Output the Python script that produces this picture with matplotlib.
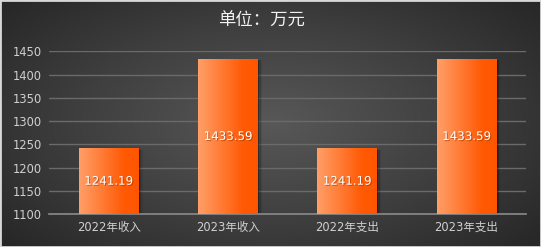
import matplotlib.pyplot as plt
import numpy as np
from matplotlib.colors import LinearSegmentedColormap
from matplotlib.patches import Rectangle
import matplotlib.patheffects as pe

plt.rcParams['font.family'] = ['DejaVu Sans', 'Noto Sans CJK SC']

categories = ['2022年收入', '2023年收入', '2022年支出', '2023年支出']
values = [1241.19, 1433.59, 1241.19, 1433.59]
yticks = [1100, 1150, 1200, 1250, 1300, 1350, 1400, 1450]

fig = plt.figure(figsize=(5.41, 2.47), dpi=100)

# radial gradient background
bg = fig.add_axes([0, 0, 1, 1], zorder=-10)
yy, xx = np.mgrid[-1:1:247j, -1:1:541j]
r = np.sqrt(xx**2 + (yy * 0.9)**2)
bg_cmap = LinearSegmentedColormap.from_list('bg', ['#585858', '#404040', '#262626'])
bg.imshow(r, cmap=bg_cmap, aspect='auto', extent=[0, 1, 0, 1], vmin=0, vmax=1.35)
bg.add_patch(Rectangle((0, 0), 1, 1, transform=bg.transAxes, fill=False,
                       edgecolor='#d8d8d8', linewidth=2))
bg.set_axis_off()

ax = fig.add_axes([49 / 541, (247 - 214) / 247, (526 - 49) / 541, (214 - 51.3) / 247])
ax.set_facecolor('none')
ax.set_ylim(1100, 1450)
ax.set_xlim(-0.5, len(categories) - 0.5)
ax.set_yticks(yticks)
ax.grid(axis='y', color='#6a6a6a', linewidth=1)
ax.set_axisbelow(True)
for s in ['top', 'right', 'left']:
    ax.spines[s].set_visible(False)
ax.spines['bottom'].set_color('#8a8a8a')
ax.spines['bottom'].set_linewidth(1.2)
ax.tick_params(length=0, colors='#d0d0d0', labelsize=8.3)
ax.tick_params(axis='x', pad=5)
ax.tick_params(axis='y', pad=5)
ax.set_xticks(range(len(categories)))
ax.set_xticklabels(categories, fontsize=8.3)

bar_cmap = LinearSegmentedColormap.from_list('bar', [(0, '#ff9f68'), (0.75, '#ff5a05'), (1, '#ff5500')])
grad = np.linspace(0, 1, 256).reshape(1, -1)
w = 0.5
bars = ax.bar(range(len(categories)), [v - 1100 for v in values], bottom=1100, width=w,
              color='none', zorder=3)
for i, (b, v) in enumerate(zip(bars, values)):
    # soft shadow to the right
    for k, a in enumerate([0.25, 0.15, 0.08]):
        ax.add_patch(Rectangle((i - w / 2 + 0.012 * (k + 1), 1100), w, v - 1100 - 1.5 * (k + 1),
                               color='black', alpha=a, zorder=2, linewidth=0))
    im = ax.imshow(grad, cmap=bar_cmap, aspect='auto', extent=[i - w / 2, i + w / 2, 1100, v],
                   zorder=3)
    im.set_clip_path(b)
    ax.text(i, (1100 + v) / 2, f'{v:.2f}', ha='center', va='center', color='white',
            fontsize=8.5, zorder=5,
            path_effects=[pe.withSimplePatchShadow(offset=(0.8, -0.8), shadow_rgbFace='#8a3000', alpha=0.5)])
ax.set_xlim(-0.5, len(categories) - 0.5)
ax.set_ylim(1100, 1450)

fig.text(0.483, 0.915, '单位：万元', ha='center', va='center', color='#f2f2f2', fontsize=12.5)

plt.savefig('out.png', dpi=100)
